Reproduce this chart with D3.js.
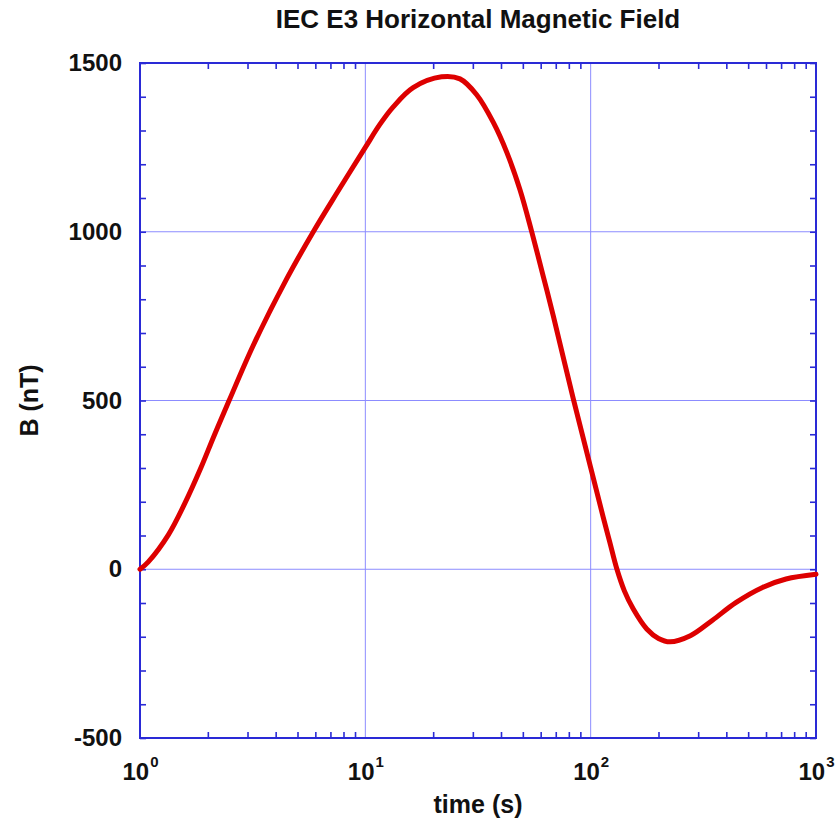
<!DOCTYPE html>
<html><head><meta charset="utf-8">
<script src="https://cdn.jsdelivr.net/npm/d3@7"></script>
<style>
body{margin:0;background:#fff;}
text{font-family:"Liberation Sans",Arial,sans-serif;font-weight:bold;}
</style></head>
<body><svg id="c" width="839" height="831"></svg>
<script>
const timeS = [1, 1.0885, 1.336, 1.5805, 1.859, 2.13, 2.483, 3.18, 4.482, 5.877, 7.464, 10, 11.6, 13.3, 16.3, 21.8,
  26.3, 31.2, 36.98, 42.4, 48.6, 54.7, 61.6, 68.3, 83.8, 100, 113.8, 121.8, 130.5, 141.1, 154.6, 177.4, 200, 225,
  276.8, 347.3, 440.7, 578.9, 736.3, 1000];
const bField = [0, 22, 102, 195, 299, 395, 499, 663, 861, 1000, 1114, 1250, 1318, 1370, 1427, 1459,
  1453, 1406, 1324, 1236, 1124, 1001, 868, 750, 504, 301, 153, 78, 2, -64, -118, -177, -205, -215,
  -197, -151, -99, -54, -29, -15];
const yMajor = [-500, 0, 500, 1000, 1500];
const xMajor = [1, 10, 100, 1000];
const xExp = ["0", "1", "2", "3"];
const title = "IEC E3 Horizontal Magnetic Field";
const xLabel = "time (s)";
const yLabel = "B (nT)";

const L = 140, R = 816, T = 63, B = 738;
const axisColor = "#2a2ad6", gridColor = "#8c8cff", lineColor = "#dd0000";
const FONT = '"Liberation Sans",Arial,sans-serif';
const svg = d3.select("#c");
const x = d3.scaleLog().domain([1, 1000]).range([L, R]);
const y = d3.scaleLinear().domain([-500, 1500]).range([B, T]);

// grid
svg.append("g").selectAll("line").data(xMajor.slice(1, -1)).join("line")
  .attr("x1", d => x(d)).attr("x2", d => x(d)).attr("y1", T).attr("y2", B)
  .attr("stroke", gridColor).attr("stroke-width", 1);
svg.append("g").selectAll("line").data(yMajor.slice(1, -1)).join("line")
  .attr("y1", d => y(d)).attr("y2", d => y(d)).attr("x1", L).attr("x2", R)
  .attr("stroke", gridColor).attr("stroke-width", 1);

// minor ticks
const xMinor = [];
for (let dec = 1; dec < 1000; dec *= 10) for (let k = 2; k <= 9; k++) xMinor.push(dec * k);
const yMinor = d3.range(-500, 1501, 100);

function styleAxis(g) {
  g.select(".domain").remove();
  g.selectAll(".tick line").attr("stroke", axisColor).attr("stroke-width", 1.6);
}
svg.append("g").attr("transform", `translate(0,${B})`).call(d3.axisBottom(x).tickValues(xMinor).tickSize(-6).tickFormat("")).call(styleAxis);
svg.append("g").attr("transform", `translate(0,${T})`).call(d3.axisTop(x).tickValues(xMinor).tickSize(-6).tickFormat("")).call(styleAxis);
svg.append("g").attr("transform", `translate(${L},0)`).call(d3.axisLeft(y).tickValues(yMinor).tickSize(-6).tickFormat("")).call(styleAxis);
svg.append("g").attr("transform", `translate(${R},0)`).call(d3.axisRight(y).tickValues(yMinor).tickSize(-6).tickFormat("")).call(styleAxis);

// y labels
const yAx = svg.append("g").attr("transform", `translate(${L},0)`)
  .call(d3.axisLeft(y).tickValues(yMajor).tickSize(0).tickPadding(18).tickFormat(d => String(d)));
yAx.select(".domain").remove();
yAx.selectAll("text").attr("font-size", 24).attr("fill", "#111")
  .style("font-family", FONT).style("font-weight", "bold");

// x labels
const xAx = svg.append("g").attr("transform", `translate(0,${B})`)
  .call(d3.axisBottom(x).tickValues(xMajor).tickSize(0).tickPadding(0).tickFormat(""));
xAx.select(".domain").remove();
xAx.selectAll(".tick text").each(function(d, i) {
  const t = d3.select(this).attr("font-size", 24).attr("fill", "#111").attr("y", 42).attr("dy", null)
    .style("font-family", FONT).style("font-weight", "bold");
  t.append("tspan").text("10");
  t.append("tspan").attr("font-size", 15).attr("dy", "-0.85em").attr("dx", "1").text(xExp[i]);
});

// frame
svg.append("rect").attr("x", L).attr("y", T).attr("width", R - L).attr("height", B - T)
  .attr("fill", "none").attr("stroke", axisColor).attr("stroke-width", 2);

// curve
const data = timeS.map((t, i) => [t, bField[i]]);
svg.append("path").datum(data)
  .attr("d", d3.line().x(d => x(d[0])).y(d => y(d[1])).curve(d3.curveCatmullRom.alpha(0.5)))
  .attr("fill", "none").attr("stroke", lineColor).attr("stroke-width", 5)
  .attr("stroke-linejoin", "round").attr("stroke-linecap", "round");

// titles
svg.append("text").attr("x", (L + R) / 2).attr("y", 28).attr("text-anchor", "middle")
  .attr("font-size", 26).attr("fill", "#111").text(title);
svg.append("text").attr("x", (L + R) / 2).attr("y", 813).attr("text-anchor", "middle")
  .attr("font-size", 25).attr("fill", "#111").text(xLabel);
svg.append("text").attr("transform", `translate(38,${(T + B) / 2}) rotate(-90)`).attr("text-anchor", "middle")
  .attr("font-size", 25).attr("fill", "#111").text(yLabel);
</script></body></html>
